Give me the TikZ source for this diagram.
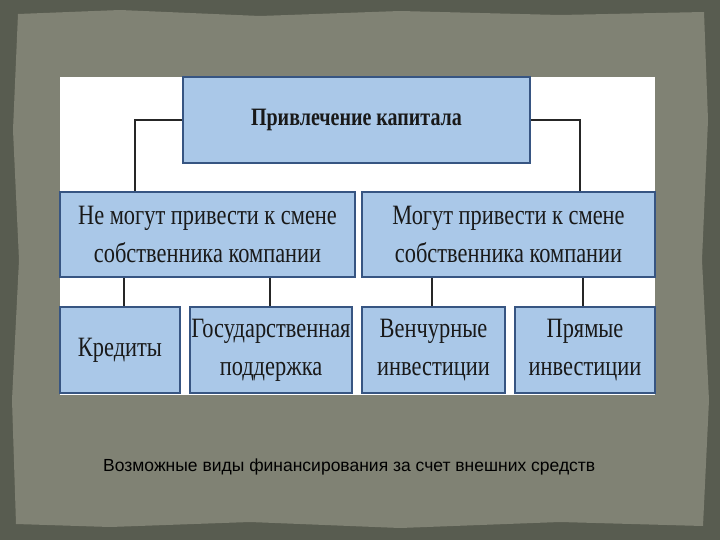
\documentclass[tikz,border=0pt]{standalone}
\usepackage{fontspec}
\setmainfont{Liberation Serif}
\newfontfamily\cond[FakeStretch=0.8]{Liberation Serif}
\newfontfamily\capf{Liberation Sans}
\definecolor{bgdark}{RGB}{88,92,80}
\definecolor{panel}{RGB}{128,130,116}
\definecolor{boxfill}{RGB}{170,200,232}
\definecolor{boxline}{RGB}{55,85,130}
\begin{document}
\begin{tikzpicture}[x=1pt,y=-1pt,
  bx/.style={draw=boxline,line width=2.5pt,fill=boxfill,inner sep=0pt,align=center,font=\cond\fontsize{28}{38}\selectfont,text=black!90},
  ln/.style={line width=1.6pt,black!85}]
\useasboundingbox (0,0) rectangle (720,540);
\fill[bgdark] (0,0) rectangle (720,540);
\fill[panel] (18,14) -- (120,10) -- (260,16) -- (400,11) -- (560,15) -- (704,12) -- (708,120) -- (702,260) -- (709,400) -- (703,526) -- (560,522) -- (400,528) -- (250,522) -- (110,527) -- (16,524) -- (12,400) -- (19,260) -- (13,130) -- cycle;
\fill[white] (60,77) rectangle (655,395);
\node[bx,minimum width=347pt,minimum height=86pt,font=\cond\bfseries\fontsize{25}{30}\selectfont] (top) at (356.5,120) {Привлечение капитала};
\node[bx,minimum width=295pt,minimum height=85pt] (l) at (207.5,234.5) {Не могут привести к смене\\собственника компании};
\node[bx,minimum width=293pt,minimum height=85pt] (r) at (508.5,234.5) {Могут привести к смене\\собственника компании};
\node[bx,minimum width=120pt,minimum height=86pt] (b1) at (120,350) {Кредиты};
\node[bx,minimum width=162pt,minimum height=86pt] (b2) at (271,350) {Государственная\\поддержка};
\node[bx,minimum width=143pt,minimum height=86pt] (b3) at (433.5,350) {Венчурные\\инвестиции};
\node[bx,minimum width=140pt,minimum height=86pt] (b4) at (585,350) {Прямые\\инвестиции};
\draw[ln] (top.west) -| (135,0|-l.north);
\draw[ln] (top.east) -| (580,0|-r.north);
\draw[ln] (124,0|-l.south) -- (124,0|-b1.north);
\draw[ln] (270,0|-l.south) -- (270,0|-b2.north);
\draw[ln] (432,0|-r.south) -- (432,0|-b3.north);
\draw[ln] (583,0|-r.south) -- (583,0|-b4.north);
\node[font=\capf\fontsize{17.5}{19}\selectfont,anchor=west,inner sep=0pt] (cap) at (103,467) {Возможные виды финансирования за счет внешних средств};
\end{tikzpicture}
\end{document}
